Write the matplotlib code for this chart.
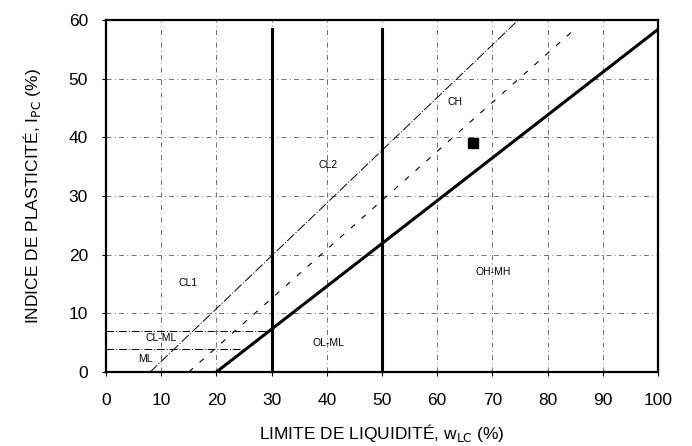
import matplotlib
matplotlib.use("Agg")
import matplotlib.pyplot as plt

plt.rcParams["font.family"] = ["Liberation Sans", "DejaVu Sans"]

# chart data
x_ticks = [0, 10, 20, 30, 40, 50, 60, 70, 80, 90, 100]
y_ticks = [0, 10, 20, 30, 40, 50, 60]

a_line_x = [20, 100]
a_line_y = [0, 58.4]
u_line_x = [8, 74.7]
u_line_y = [0, 60]
mid_line_x = [15, 85]
mid_line_y = [0, 58.5]
split_x = [30, 50]
split_top = 58.5

cl_ml_top = (7, 0, 30)       # y, x start, x end
cl_ml_bottom = (4, 0, 25)

sample_x = [66.5]
sample_y = [39]

zone_names = ["CH", "CL2", "CL1", "CL-ML", "ML", "OL-ML", "OH-MH"]
zone_x = [63.2, 40.2, 14.9, 10.0, 7.1, 40.3, 70.1]
zone_y = [46.0, 35.3, 15.2, 5.8, 2.2, 5.0, 17.0]

fig = plt.figure(figsize=(6.92, 4.46), dpi=100)
ax = fig.add_axes([106 / 692, 1 - 372 / 446, 552 / 692, 352 / 446])

grid_style = dict(color="0.35", lw=0.6, linestyle=(0, (6, 4, 1, 4)), zorder=1)
for gx in x_ticks[1:-1]:
    ax.axvline(gx, **grid_style)
for gy in y_ticks[1:-1]:
    ax.axhline(gy, **grid_style)

for y, x0, x1 in (cl_ml_top, cl_ml_bottom):
    ax.plot([x0, x1], [y, y], color="black", lw=0.7,
            linestyle=(0, (8, 2, 1, 2)), zorder=2)

ax.plot(u_line_x, u_line_y, color="black", lw=0.7,
        linestyle=(0, (10, 2, 1, 2)), zorder=2)
ax.plot(mid_line_x, mid_line_y, color="black", lw=0.8,
        linestyle=(0, (5, 8)), zorder=2)
ax.plot(a_line_x, a_line_y, color="black", lw=2.2, zorder=3)
for sx in split_x:
    ax.plot([sx, sx], [0, split_top], color="black", lw=2.2, zorder=3)

ax.plot(sample_x, sample_y, "s", color="black", markersize=7, zorder=4)

for name, zx, zy in zip(zone_names, zone_x, zone_y):
    ax.text(zx, zy, name, fontsize=7.5, ha="center", va="center", zorder=5)

ax.set_xlim(0, 100)
ax.set_ylim(0, 60)
ax.set_xticks(x_ticks)
ax.set_yticks(y_ticks)
ax.tick_params(direction="out", length=3, width=0.8, labelsize=12.5)
ax.tick_params(axis="x", pad=12)
ax.tick_params(axis="y", pad=10)
for spine in ax.spines.values():
    spine.set_linewidth(1.6)

fig.text(382 / 692, 1 - 433 / 446, r"LIMITE DE LIQUIDITÉ, w$_{\mathrm{LC}}$ (%)",
         ha="center", va="center", fontsize=12.5)
fig.text(32 / 692, 1 - 196 / 446, r"INDICE DE PLASTICITÉ, I$_{\mathrm{PC}}$ (%)",
         ha="center", va="center", rotation=90, fontsize=12.5)

fig.savefig("out.png", dpi=100)
